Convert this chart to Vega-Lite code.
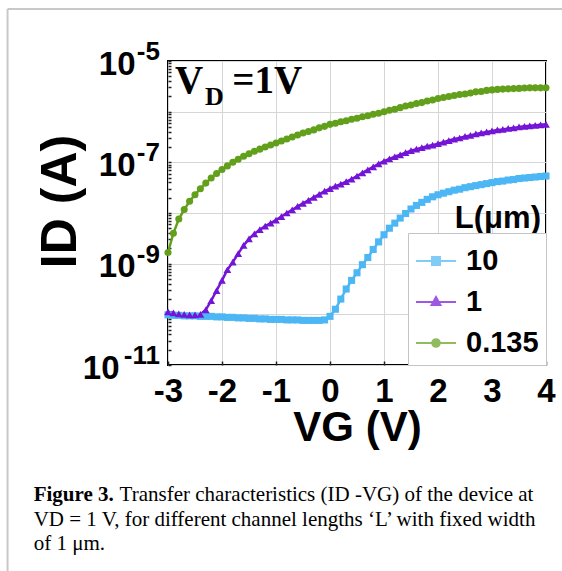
{
  "$schema": "https://vega.github.io/schema/vega-lite/v6.json",
  "width": 378,
  "height": 304,
  "autosize": {"type": "none"},
  "padding": {"left": 168, "top": 61, "right": 16, "bottom": 206},
  "background": "white",
  "config": {
    "view": {"stroke": "black", "strokeWidth": 2},
    "axis": {
      "labelFont": "Liberation Sans",
      "labelFontWeight": "bold",
      "labelColor": "black",
      "titleFont": "Liberation Sans",
      "titleFontWeight": "bold",
      "titleColor": "black",
      "domain": false,
      "tickColor": "#222222",
      "tickWidth": 1.5,
      "gridColor": "#d6d6d6",
      "gridWidth": 1,
      "labelFlush": false,
      "labelOverlap": false,
      "labelBound": false
    },
    "legend": {
      "strokeColor": "#c4c4c4",
      "fillColor": "white",
      "padding": 7,
      "rowPadding": 5,
      "symbolSize": 1600,
      "symbolStrokeWidth": 2,
      "labelFont": "Liberation Sans",
      "labelFontWeight": "bold",
      "labelFontSize": 29,
      "labelColor": "black",
      "labelOffset": 9
    }
  },
  "data": {"values": [
    {"L":"10","v":-3,"i":9.77e-11},{"L":"10","v":-2.9,"i":9.55e-11},{"L":"10","v":-2.8,"i":9.55e-11},{"L":"10","v":-2.7,"i":9.33e-11},{"L":"10","v":-2.6,"i":9.33e-11},{"L":"10","v":-2.5,"i":9.33e-11},{"L":"10","v":-2.4,"i":9.12e-11},{"L":"10","v":-2.3,"i":9.12e-11},{"L":"10","v":-2.2,"i":9.12e-11},{"L":"10","v":-2.1,"i":8.91e-11},
    {"L":"10","v":-2,"i":8.91e-11},{"L":"10","v":-1.9,"i":8.71e-11},{"L":"10","v":-1.8,"i":8.71e-11},{"L":"10","v":-1.7,"i":8.51e-11},{"L":"10","v":-1.6,"i":8.51e-11},{"L":"10","v":-1.5,"i":8.32e-11},{"L":"10","v":-1.4,"i":8.32e-11},{"L":"10","v":-1.3,"i":8.13e-11},{"L":"10","v":-1.2,"i":8.13e-11},{"L":"10","v":-1.1,"i":7.94e-11},
    {"L":"10","v":-1,"i":7.94e-11},{"L":"10","v":-0.9,"i":7.94e-11},{"L":"10","v":-0.8,"i":7.76e-11},{"L":"10","v":-0.7,"i":7.76e-11},{"L":"10","v":-0.6,"i":7.76e-11},{"L":"10","v":-0.5,"i":7.59e-11},{"L":"10","v":-0.4,"i":7.59e-11},{"L":"10","v":-0.3,"i":7.59e-11},{"L":"10","v":-0.2,"i":7.59e-11},{"L":"10","v":-0.1,"i":7.76e-11},
    {"L":"10","v":0,"i":9.12e-11},{"L":"10","v":0.1,"i":1.26e-10},{"L":"10","v":0.2,"i":2.0e-10},{"L":"10","v":0.3,"i":3.16e-10},{"L":"10","v":0.4,"i":4.68e-10},{"L":"10","v":0.5,"i":6.61e-10},{"L":"10","v":0.6,"i":9.55e-10},{"L":"10","v":0.7,"i":1.32e-9},{"L":"10","v":0.8,"i":1.91e-9},{"L":"10","v":0.9,"i":2.69e-9},
    {"L":"10","v":1,"i":3.72e-9},{"L":"10","v":1.1,"i":5.01e-9},{"L":"10","v":1.2,"i":6.31e-9},{"L":"10","v":1.3,"i":7.94e-9},{"L":"10","v":1.4,"i":9.77e-9},{"L":"10","v":1.5,"i":1.2e-8},{"L":"10","v":1.6,"i":1.41e-8},{"L":"10","v":1.7,"i":1.62e-8},{"L":"10","v":1.8,"i":1.86e-8},{"L":"10","v":1.9,"i":2.09e-8},
    {"L":"10","v":2,"i":2.29e-8},{"L":"10","v":2.1,"i":2.46e-8},{"L":"10","v":2.2,"i":2.63e-8},{"L":"10","v":2.3,"i":2.82e-8},{"L":"10","v":2.4,"i":2.95e-8},{"L":"10","v":2.5,"i":3.16e-8},{"L":"10","v":2.6,"i":3.31e-8},{"L":"10","v":2.7,"i":3.47e-8},{"L":"10","v":2.8,"i":3.63e-8},{"L":"10","v":2.9,"i":3.8e-8},
    {"L":"10","v":3,"i":3.98e-8},{"L":"10","v":3.1,"i":4.17e-8},{"L":"10","v":3.2,"i":4.27e-8},{"L":"10","v":3.3,"i":4.47e-8},{"L":"10","v":3.4,"i":4.57e-8},{"L":"10","v":3.5,"i":4.79e-8},{"L":"10","v":3.6,"i":4.9e-8},{"L":"10","v":3.7,"i":5.01e-8},{"L":"10","v":3.8,"i":5.13e-8},{"L":"10","v":3.9,"i":5.25e-8},{"L":"10","v":4,"i":5.37e-8},

    {"L":"1","v":-3,"i":1.12e-10},{"L":"1","v":-2.9,"i":1.07e-10},{"L":"1","v":-2.8,"i":1.02e-10},{"L":"1","v":-2.7,"i":1.0e-10},{"L":"1","v":-2.6,"i":9.77e-11},{"L":"1","v":-2.5,"i":9.77e-11},{"L":"1","v":-2.4,"i":1.0e-10},{"L":"1","v":-2.3,"i":1.23e-10},{"L":"1","v":-2.2,"i":1.86e-10},{"L":"1","v":-2.1,"i":2.95e-10},
    {"L":"1","v":-2,"i":4.68e-10},{"L":"1","v":-1.9,"i":7.59e-10},{"L":"1","v":-1.8,"i":1.07e-9},{"L":"1","v":-1.7,"i":1.58e-9},{"L":"1","v":-1.6,"i":2.29e-9},{"L":"1","v":-1.5,"i":3.09e-9},{"L":"1","v":-1.4,"i":3.89e-9},{"L":"1","v":-1.3,"i":4.68e-9},{"L":"1","v":-1.2,"i":5.5e-9},{"L":"1","v":-1.1,"i":6.31e-9},
    {"L":"1","v":-1,"i":7.24e-9},{"L":"1","v":-0.9,"i":8.51e-9},{"L":"1","v":-0.8,"i":1.0e-8},{"L":"1","v":-0.7,"i":1.15e-8},{"L":"1","v":-0.6,"i":1.35e-8},{"L":"1","v":-0.5,"i":1.55e-8},{"L":"1","v":-0.4,"i":1.78e-8},{"L":"1","v":-0.3,"i":2.04e-8},{"L":"1","v":-0.2,"i":2.34e-8},{"L":"1","v":-0.1,"i":2.69e-8},
    {"L":"1","v":0,"i":3.02e-8},{"L":"1","v":0.1,"i":3.39e-8},{"L":"1","v":0.2,"i":3.72e-8},{"L":"1","v":0.3,"i":4.17e-8},{"L":"1","v":0.4,"i":4.68e-8},{"L":"1","v":0.5,"i":5.37e-8},{"L":"1","v":0.6,"i":6.17e-8},{"L":"1","v":0.7,"i":7.08e-8},{"L":"1","v":0.8,"i":8.13e-8},{"L":"1","v":0.9,"i":9.33e-8},
    {"L":"1","v":1,"i":1.05e-7},{"L":"1","v":1.1,"i":1.17e-7},{"L":"1","v":1.2,"i":1.29e-7},{"L":"1","v":1.3,"i":1.41e-7},{"L":"1","v":1.4,"i":1.55e-7},{"L":"1","v":1.5,"i":1.7e-7},{"L":"1","v":1.6,"i":1.82e-7},{"L":"1","v":1.7,"i":1.95e-7},{"L":"1","v":1.8,"i":2.09e-7},{"L":"1","v":1.9,"i":2.19e-7},
    {"L":"1","v":2,"i":2.34e-7},{"L":"1","v":2.1,"i":2.51e-7},{"L":"1","v":2.2,"i":2.69e-7},{"L":"1","v":2.3,"i":2.88e-7},{"L":"1","v":2.4,"i":3.02e-7},{"L":"1","v":2.5,"i":3.24e-7},{"L":"1","v":2.6,"i":3.39e-7},{"L":"1","v":2.7,"i":3.63e-7},{"L":"1","v":2.8,"i":3.8e-7},{"L":"1","v":2.9,"i":3.98e-7},
    {"L":"1","v":3,"i":4.17e-7},{"L":"1","v":3.1,"i":4.37e-7},{"L":"1","v":3.2,"i":4.47e-7},{"L":"1","v":3.3,"i":4.68e-7},{"L":"1","v":3.4,"i":4.79e-7},{"L":"1","v":3.5,"i":5.01e-7},{"L":"1","v":3.6,"i":5.13e-7},{"L":"1","v":3.7,"i":5.25e-7},{"L":"1","v":3.8,"i":5.37e-7},{"L":"1","v":3.9,"i":5.5e-7},{"L":"1","v":4,"i":5.62e-7},

    {"L":"0.135","v":-3,"i":1.66e-9},{"L":"0.135","v":-2.9,"i":3.98e-9},{"L":"0.135","v":-2.8,"i":7.59e-9},{"L":"0.135","v":-2.7,"i":1.17e-8},{"L":"0.135","v":-2.6,"i":1.7e-8},{"L":"0.135","v":-2.5,"i":2.29e-8},{"L":"0.135","v":-2.4,"i":3.02e-8},{"L":"0.135","v":-2.3,"i":3.89e-8},{"L":"0.135","v":-2.2,"i":4.9e-8},{"L":"0.135","v":-2.1,"i":6.03e-8},
    {"L":"0.135","v":-2,"i":7.24e-8},{"L":"0.135","v":-1.9,"i":8.51e-8},{"L":"0.135","v":-1.8,"i":1.0e-7},{"L":"0.135","v":-1.7,"i":1.15e-7},{"L":"0.135","v":-1.6,"i":1.32e-7},{"L":"0.135","v":-1.5,"i":1.48e-7},{"L":"0.135","v":-1.4,"i":1.66e-7},{"L":"0.135","v":-1.3,"i":1.82e-7},{"L":"0.135","v":-1.2,"i":2.0e-7},{"L":"0.135","v":-1.1,"i":2.19e-7},
    {"L":"0.135","v":-1,"i":2.4e-7},{"L":"0.135","v":-0.9,"i":2.63e-7},{"L":"0.135","v":-0.8,"i":2.88e-7},{"L":"0.135","v":-0.7,"i":3.16e-7},{"L":"0.135","v":-0.6,"i":3.47e-7},{"L":"0.135","v":-0.5,"i":3.8e-7},{"L":"0.135","v":-0.4,"i":4.07e-7},{"L":"0.135","v":-0.3,"i":4.37e-7},{"L":"0.135","v":-0.2,"i":4.79e-7},{"L":"0.135","v":-0.1,"i":5.13e-7},
    {"L":"0.135","v":0,"i":5.62e-7},{"L":"0.135","v":0.1,"i":5.89e-7},{"L":"0.135","v":0.2,"i":6.31e-7},{"L":"0.135","v":0.3,"i":6.61e-7},{"L":"0.135","v":0.4,"i":7.08e-7},{"L":"0.135","v":0.5,"i":7.41e-7},{"L":"0.135","v":0.6,"i":7.94e-7},{"L":"0.135","v":0.7,"i":8.32e-7},{"L":"0.135","v":0.8,"i":8.91e-7},{"L":"0.135","v":0.9,"i":9.33e-7},
    {"L":"0.135","v":1,"i":1.0e-6},{"L":"0.135","v":1.1,"i":1.07e-6},{"L":"0.135","v":1.2,"i":1.12e-6},{"L":"0.135","v":1.3,"i":1.2e-6},{"L":"0.135","v":1.4,"i":1.29e-6},{"L":"0.135","v":1.5,"i":1.35e-6},{"L":"0.135","v":1.6,"i":1.45e-6},{"L":"0.135","v":1.7,"i":1.51e-6},{"L":"0.135","v":1.8,"i":1.62e-6},{"L":"0.135","v":1.9,"i":1.7e-6},
    {"L":"0.135","v":2,"i":1.82e-6},{"L":"0.135","v":2.1,"i":1.91e-6},{"L":"0.135","v":2.2,"i":2.0e-6},{"L":"0.135","v":2.3,"i":2.09e-6},{"L":"0.135","v":2.4,"i":2.19e-6},{"L":"0.135","v":2.5,"i":2.24e-6},{"L":"0.135","v":2.6,"i":2.34e-6},{"L":"0.135","v":2.7,"i":2.46e-6},{"L":"0.135","v":2.8,"i":2.51e-6},{"L":"0.135","v":2.9,"i":2.63e-6},
    {"L":"0.135","v":3,"i":2.69e-6},{"L":"0.135","v":3.1,"i":2.75e-6},{"L":"0.135","v":3.2,"i":2.79e-6},{"L":"0.135","v":3.3,"i":2.82e-6},{"L":"0.135","v":3.4,"i":2.85e-6},{"L":"0.135","v":3.5,"i":2.88e-6},{"L":"0.135","v":3.6,"i":2.92e-6},{"L":"0.135","v":3.7,"i":2.95e-6},{"L":"0.135","v":3.8,"i":2.95e-6},{"L":"0.135","v":3.9,"i":2.95e-6},{"L":"0.135","v":4,"i":2.95e-6}
  ]},
  "layer": [
    {
      "transform": [{"filter": "false"}],
      "mark": {"type": "point", "filled": false, "strokeWidth": 2},
      "encoding": {
        "x": {
          "field": "v", "type": "quantitative",
          "scale": {"domain": [-3, 4], "nice": false, "zero": false},
          "axis": {
            "title": "VG (V)",
            "titleFontSize": 42,
            "titleBaseline": "alphabetic",
            "titleY": 75,
            "values": [-3, -2.5, -2, -1.5, -1, -0.5, 0, 0.5, 1, 1.5, 2, 2.5, 3, 3.5, 4],
            "labelExpr": "datum.value % 1 == 0 ? '' + datum.value : ''",
            "labelFontSize": 33,
            "tickSize": -4,
            "labelPadding": 14,
            "gridOpacity": {"condition": {"test": "datum.value % 1 != 0", "value": 0}, "value": 1}
          }
        },
        "y": {
          "field": "i", "type": "quantitative",
          "scale": {"type": "log", "domain": [1e-11, 1e-5], "nice": false},
          "axis": {
            "title": "ID (A)",
            "titleFontSize": 50,
            "titleAngle": -90,
            "titleBaseline": "alphabetic",
            "titleX": -93,
            "titleY": 140,
            "values": [1e-11, 2e-11, 3e-11, 4e-11, 5e-11, 6e-11, 7e-11, 8e-11, 9e-11, 1e-10, 2e-10, 3e-10, 4e-10, 5e-10, 6e-10, 7e-10, 8e-10, 9e-10, 1e-9, 2e-9, 3e-9, 4e-9, 5e-9, 6e-9, 7e-9, 8e-9, 9e-9, 1e-8, 2e-8, 3e-8, 4e-8, 5e-8, 6e-8, 7e-8, 8e-8, 9e-8, 1e-7, 2e-7, 3e-7, 4e-7, 5e-7, 6e-7, 7e-7, 8e-7, 9e-7, 1e-6, 2e-6, 3e-6, 4e-6, 5e-6, 6e-6, 7e-6, 8e-6, 9e-6, 1e-5],
            "labelExpr": "abs(log(datum.value)/LN10 - round(log(datum.value)/LN10)) > 0.01 ? '' : (round(log(datum.value)/LN10) % 2 != 0 ? '10' : '')",
            "labelFontSize": 33,
            "labelBaseline": "middle",
            "labelOffset": 3,
            "tickSize": -3,
            "labelPadding": {"condition": {"test": "datum.value < 2e-11", "value": 52}, "value": 36},
            "gridOpacity": {"condition": {"test": "abs(log(datum.value)/LN10 - round(log(datum.value)/LN10)) > 0.01", "value": 0}, "value": 1}
          }
        },
        "color": {
          "field": "L", "type": "nominal",
          "scale": {"domain": ["10", "1", "0.135"], "range": ["#4cb7f4", "#7414d6", "#62a01c"]},
          "legend": {"title": null, "orient": "bottom-right", "offset": 0}
        },
        "shape": {
          "field": "L", "type": "nominal",
          "scale": {"domain": ["10", "1", "0.135"], "range": [
            "M-1,0H1M-0.2,-0.2H0.2V0.2H-0.2ZM-0.1,-0.1H0.1V0.1H-0.1Z",
            "M-1,0H1M0,-0.25L0.22,0.15H-0.22ZM0,-0.1L0.08,0.06H-0.08Z",
            "M-1,0H1M-0.19,0A0.19,0.19,0,1,1,0.19,0A0.19,0.19,0,1,1,-0.19,0ZM-0.08,0A0.08,0.08,0,1,1,0.08,0A0.08,0.08,0,1,1,-0.08,0Z"
          ]},
          "legend": null
        }
      }
    },
    {
      "mark": {"type": "line", "strokeWidth": 2.5},
      "encoding": {
        "x": {"field": "v", "type": "quantitative"},
        "y": {"field": "i", "type": "quantitative"},
        "color": {"field": "L", "type": "nominal"}
      }
    },
    {
      "transform": [{"filter": "datum.L == '10'"}],
      "mark": {"type": "point", "shape": "square", "filled": true, "size": 50, "opacity": 1},
      "encoding": {
        "x": {"field": "v", "type": "quantitative"},
        "y": {"field": "i", "type": "quantitative"},
        "color": {"field": "L", "type": "nominal"}
      }
    },
    {
      "transform": [{"filter": "datum.L == '1'"}],
      "mark": {"type": "point", "shape": "triangle-up", "filled": true, "size": 60, "opacity": 1},
      "encoding": {
        "x": {"field": "v", "type": "quantitative"},
        "y": {"field": "i", "type": "quantitative"},
        "color": {"field": "L", "type": "nominal"}
      }
    },
    {
      "transform": [{"filter": "datum.L == '0.135'"}],
      "mark": {"type": "point", "shape": "circle", "filled": true, "size": 50, "opacity": 1},
      "encoding": {
        "x": {"field": "v", "type": "quantitative"},
        "y": {"field": "i", "type": "quantitative"},
        "color": {"field": "L", "type": "nominal"}
      }
    },
    {
      "data": {"values": [{"e": "-5", "i": 1e-5}, {"e": "-7", "i": 1e-7}, {"e": "-9", "i": 1e-9}, {"e": "-11", "i": 1e-11}]},
      "mark": {"type": "text", "font": "Liberation Sans", "fontWeight": "bold", "fontSize": 26, "align": "right", "baseline": "alphabetic", "dy": -1, "color": "black"},
      "encoding": {"x": {"datum": -3.1485}, "y": {"field": "i", "type": "quantitative"}, "text": {"field": "e"}}
    },
    {
      "data": {"values": [{}]},
      "mark": {"type": "text", "text": "V", "font": "Liberation Serif", "fontWeight": "bold", "fontSize": 39, "align": "left", "baseline": "alphabetic", "color": "black"},
      "encoding": {"x": {"datum": -2.87}, "y": {"datum": 2.33e-6}}
    },
    {
      "data": {"values": [{}]},
      "mark": {"type": "text", "text": "D", "font": "Liberation Serif", "fontWeight": "bold", "fontSize": 26, "align": "left", "baseline": "alphabetic", "color": "black"},
      "encoding": {"x": {"datum": -2.313}, "y": {"datum": 1.355e-6}}
    },
    {
      "data": {"values": [{}]},
      "mark": {"type": "text", "text": "=1V", "font": "Liberation Serif", "fontWeight": "bold", "fontSize": 39, "align": "left", "baseline": "alphabetic", "color": "black"},
      "encoding": {"x": {"datum": -1.812}, "y": {"datum": 2.33e-6}}
    },
    {
      "data": {"values": [{}]},
      "mark": {"type": "text", "text": "L(μm)", "font": "Liberation Sans", "fontWeight": "bold", "fontSize": 31, "align": "right", "baseline": "alphabetic", "color": "black"},
      "encoding": {"x": {"datum": 3.907}, "y": {"datum": 5.06e-9}}
    },
    {
      "data": {"values": [{}]},
      "mark": {"type": "text", "text": "Figure 3.", "font": "Liberation Serif", "fontWeight": "bold", "fontSize": 21, "align": "left", "baseline": "alphabetic", "color": "black"},
      "encoding": {"x": {"datum": -5.488}, "y": {"datum": 2.07e-14}}
    },
    {
      "data": {"values": [{}]},
      "mark": {"type": "text", "text": "Transfer characteristics (ID -VG) of the device at", "font": "Liberation Serif", "fontSize": 21, "align": "left", "baseline": "alphabetic", "color": "black"},
      "encoding": {"x": {"datum": -3.897}, "y": {"datum": 2.07e-14}}
    },
    {
      "data": {"values": [{}]},
      "mark": {"type": "text", "text": ["VD = 1 V, for different channel lengths ‘L’ with fixed width", "of 1 μm."], "lineHeight": 24.5, "font": "Liberation Serif", "fontSize": 21, "align": "left", "baseline": "alphabetic", "color": "black"},
      "encoding": {"x": {"datum": -5.488}, "y": {"datum": 6.65e-15}}
    },
    {
      "data": {"values": [{}]},
      "mark": {"type": "rule", "color": "#c8c8c8", "strokeWidth": 2},
      "encoding": {"x": {"datum": -5.971}, "y": {"datum": 1.062e-4}, "y2": {"datum": 8.61e-16}}
    },
    {
      "data": {"values": [{}]},
      "mark": {"type": "rule", "color": "#c8c8c8", "strokeWidth": 2},
      "encoding": {"x": {"datum": -5.971}, "x2": {"datum": 4.4}, "y": {"datum": 1.062e-4}}
    }
  ]
}
